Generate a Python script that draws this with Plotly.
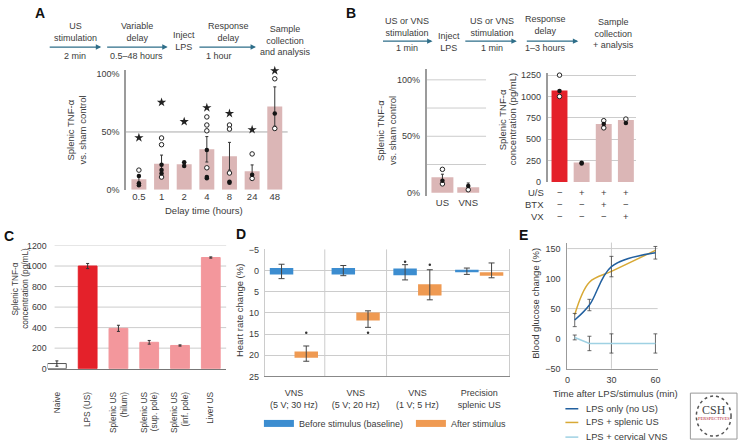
import plotly.graph_objects as go

W, H = 741, 447
def X(px): return px / W
def Y(py): return 1 - py / H

FONT = "Liberation Sans, Arial, Helvetica, sans-serif"
TXT = "#3b3b3b"
GRID = "#cccccc"
AXIS = "#9b9b9b"
PINK_A = "#dbb6b6"
RED = "#e4212a"
PINK_C = "#f3979c"
BLUE_D = "#3c8dd0"
ORANGE_D = "#ef9a52"
E_BLUE = "#22609f"
E_GOLD = "#d8a935"
E_LIGHT = "#9fd1e3"
ARROW = "#2e6e89"

# ---------------- Panel A data ----------------
delay_hours = ["0.5", "1", "2", "4", "8", "24", "48"]
a_mean = [9, 22.5, 22, 35, 29, 16, 72]
a_sem = [3, 7.5, 1.5, 11, 12, 5.5, 17]
a_filled = [[11.8, 5.6, 4.0], [21.6, 17, 14], [23.8, 20.5], [34.5, 11, 10], [7, 6], [13], [66]]
a_open = [[17], [44.8, 39, 11], [], [63, 56, 51, 19], [56, 52.5, 14.5], [31, 9.8], [96, 53]]
a_star = [45, 75.6, 59, 71, 66, 52, 103]

# ---------------- Panel B data ----------------
b_groups = ["US", "VNS"]
b_mean = [13.8, 4.9]
b_sem = [2.6, 3.7]
b_filled = [[10.6], [6]]
b_open = [[20.7, 7.8], [2.6]]

b2_mean = [1070, 229, 679, 725]
b2_filled = [[1065], [215, 226], [679], [690]]
b2_open = [[1250, 1000], [], [717, 633], [736]]
b2_rows = ["U/S", "BTX", "VX"]
b2_us = ["\u2212", "+", "+", "+"]
b2_btx = ["\u2212", "\u2212", "+", "\u2212"]
b2_vx = ["\u2212", "\u2212", "\u2212", "+"]

# ---------------- Panel C data ----------------
c_labels = ["Naive", "LPS (US)", "Splenic US<br>(hilum)", "Splenic US<br>(sup. pole)",
            "Splenic US<br>(inf. pole)", "Liver US"]
c_mean = [50, 1000, 393, 257, 226, 1083]
c_sem = [26, 25, 30, 18, 6, 6]
c_ticks = [0, 200, 400, 600, 800, 1000, 1200]

# ---------------- Panel D data ----------------
d_groups = ["VNS<br>(5 V; 30 Hz)", "VNS<br>(5 V; 20 Hz)", "VNS<br>(1 V; 5 Hz)", "Precision<br>splenic US"]
before_q1 = [-0.6, -0.6, -0.5, -0.2]
before_q3 = [0.9, 0.9, 1.1, 0.4]
before_lo = [-1.5, -1.2, -1.4, -0.6]
before_hi = [1.9, 1.2, 2.2, 0.9]
before_out = [None, None, -2.1, None]
after_q1 = [19.1, 9.9, 3.2, 0.4]
after_q3 = [20.6, 11.8, 5.9, 1.2]
after_lo = [17.8, 9.5, -0.2, -1.8]
after_hi = [21.4, 13.4, 6.9, 1.7]
after_out = [14.7, 14.7, -1.4, None]
d_names = ["Before stimulus (baseline)", "After stimulus"]

# ---------------- Panel E data ----------------
e_time = [5, 15, 30, 60]
e_lps = [31, 56, 120, 143]
e_lps_err = [11, 9.5, 17, 10.5]
e_splenic = [40, 94, 112, 147]
e_vns = [2, -8, -8, -8]
e_vns_err = [4, 12, 16, 16]
e_names = ["LPS only (no US)", "LPS + splenic US", "LPS + cervical VNS"]

fig = go.Figure()

def flat(cats, groups):
    xs, ys = [], []
    for c, vals in zip(cats, groups):
        for v in vals:
            if v is not None:
                xs.append(c)
                ys.append(v)
    return xs, ys

def dots(cats, filled, opened, xa, ya, size=4.5):
    ox, oy = flat(cats, opened)
    fx, fy = flat(cats, filled)
    fig.add_trace(go.Scatter(x=ox, y=oy, mode="markers", xaxis=xa, yaxis=ya, showlegend=False,
                             cliponaxis=False, hoverinfo="skip",
                             marker=dict(size=size, color="white", line=dict(color="#222", width=1))))
    fig.add_trace(go.Scatter(x=fx, y=fy, mode="markers", xaxis=xa, yaxis=ya, showlegend=False,
                             cliponaxis=False, hoverinfo="skip",
                             marker=dict(size=size, color="#151515")))

ERR = dict(type="data", color="#333", thickness=1, width=1.5)

# Panel A
fig.add_trace(go.Bar(x=delay_hours, y=a_mean, width=0.66, marker=dict(color=PINK_A, line=dict(width=0)),
                     error_y=dict(array=a_sem, **ERR), xaxis="x", yaxis="y", showlegend=False))
dots(delay_hours, a_filled, a_open, "x", "y")
fig.add_trace(go.Scatter(x=delay_hours, y=a_star, mode="markers", xaxis="x", yaxis="y", showlegend=False,
                         cliponaxis=False, marker=dict(symbol="star", size=7, color="#222")))

# Panel B left
fig.add_trace(go.Bar(x=b_groups, y=b_mean, width=0.85, marker=dict(color=PINK_A, line=dict(width=0)),
                     error_y=dict(array=b_sem, **ERR), xaxis="x2", yaxis="y2", showlegend=False))
dots(b_groups, b_filled, b_open, "x2", "y2")

# Panel B right
b2_x = list(range(len(b2_mean)))
fig.add_trace(go.Bar(x=b2_x, y=b2_mean, width=0.72,
                     marker=dict(color=[RED] + [PINK_A] * (len(b2_mean) - 1), line=dict(width=0)),
                     xaxis="x3", yaxis="y3", showlegend=False))
dots(b2_x, b2_filled, b2_open, "x3", "y3")

# Panel C
fig.add_trace(go.Bar(x=c_labels, y=c_mean, width=0.61,
                     marker=dict(color=["white", RED] + [PINK_C] * 4,
                                 line=dict(color=["#555", RED] + [PINK_C] * 4, width=1)),
                     error_y=dict(array=c_sem, **ERR), xaxis="x4", yaxis="y4", showlegend=False))

# Panel D (boxes drawn as floating bars + whiskers)
OFF, BW = 0.2, 0.38
for q1, q3, lo, hi, out, col, sgn in [
        (before_q1, before_q3, before_lo, before_hi, before_out, BLUE_D, -1),
        (after_q1, after_q3, after_lo, after_hi, after_out, ORANGE_D, 1)]:
    xs = [i + sgn * OFF for i in range(len(d_groups))]
    mid = [(a + b) / 2 for a, b in zip(q1, q3)]
    fig.add_trace(go.Bar(x=xs, y=[b - a for a, b in zip(q1, q3)], base=q1, width=BW,
                         marker=dict(color=col, line=dict(width=0)), xaxis="x5", yaxis="y5",
                         showlegend=False))
    fig.add_trace(go.Scatter(x=xs, y=mid, mode="markers", xaxis="x5", yaxis="y5", showlegend=False,
                             marker=dict(size=1, color="rgba(0,0,0,0)"),
                             error_y=dict(type="data", symmetric=False,
                                          array=[h - m for h, m in zip(hi, mid)],
                                          arrayminus=[m - l for m, l in zip(mid, lo)],
                                          color="#444", thickness=1, width=3)))
    ox = [x for x, o in zip(xs, out) if o is not None]
    oy = [o for o in out if o is not None]
    fig.add_trace(go.Scatter(x=ox, y=oy, mode="markers", xaxis="x5", yaxis="y5", showlegend=False,
                             marker=dict(size=2.5, color="#333")))
for name, col in zip(d_names, [BLUE_D, ORANGE_D]):
    fig.add_trace(go.Scatter(x=[None], y=[None], mode="lines", name=name, xaxis="x5", yaxis="y5",
                             line=dict(color=col, width=7), showlegend=True))

# Panel E
fig.add_trace(go.Scatter(x=e_time, y=e_vns, mode="lines", xaxis="x6", yaxis="y6", showlegend=False,
                         line=dict(color=E_LIGHT, width=1.5),
                         error_y=dict(type="data", array=e_vns_err, color="#444", thickness=0.8, width=2)))
fig.add_trace(go.Scatter(x=e_time, y=e_splenic, mode="lines", xaxis="x6", yaxis="y6", showlegend=False,
                         line=dict(color=E_GOLD, width=1.5, shape="spline")))
fig.add_trace(go.Scatter(x=e_time, y=e_lps, mode="lines", xaxis="x6", yaxis="y6", showlegend=False,
                         line=dict(color=E_BLUE, width=1.5, shape="spline"),
                         error_y=dict(type="data", array=e_lps_err, color="#444", thickness=0.8, width=2)))

def tf(size=9):
    return dict(family=FONT, size=size, color=TXT)

def ax(**kw):
    base = dict(showgrid=False, zeroline=False, ticks="", showline=False, tickfont=tf(9), fixedrange=True)
    base.update(kw)
    return base

layout = dict(
    width=W, height=H, margin=dict(l=0, r=0, t=0, b=0), autosize=False,
    paper_bgcolor="white", plot_bgcolor="rgba(0,0,0,0)", barmode="overlay",
    font=dict(family=FONT, size=9, color=TXT),
    xaxis=ax(domain=[X(124), X(287)], anchor="y", type="category", range=[-0.57, 6.57], tickfont=tf(9.5)),
    yaxis=ax(domain=[Y(189), Y(66)], anchor="x", range=[0, 104], tickvals=[0, 50, 100],
             ticktext=["0%", "50%", "100%"], showline=True, linecolor=AXIS, linewidth=1.5,
             ticklabelstandoff=3),
    xaxis2=ax(domain=[X(427), X(487)], anchor="y2", type="category", range=[-0.615, 1.69], tickfont=tf(9.5)),
    yaxis2=ax(domain=[Y(195), Y(65)], anchor="x2", range=[-2.6, 110], tickvals=[0, 50, 100],
              ticktext=["0%", "50%", "100%"], showline=True, linecolor=AXIS, linewidth=1.5,
              ticklabelstandoff=3),
    xaxis3=ax(domain=[X(549), X(638)], anchor="y3", range=[-0.54, 3.45], showticklabels=False),
    yaxis3=ax(domain=[Y(181), Y(70)], anchor="x3", range=[0, 1270], tickvals=[0, 250, 500, 750, 1000, 1250],
              showgrid=True, gridcolor=GRID, showline=True, linecolor=AXIS, linewidth=1.5,
              ticklabelstandoff=3),
    xaxis4=ax(domain=[X(45), X(225)], anchor="y4", type="category", range=[-0.3, 5.5], tickangle=-90,
              tickfont=tf(8.3), showline=True, linecolor="#777", linewidth=1, ticklabelstandoff=19),
    yaxis4=ax(domain=[Y(372), Y(246)], anchor="x4", range=[0, 1200], tickvals=c_ticks,
              tickfont=tf(8.8), showgrid=False, ticklabelstandoff=0),
    xaxis5=ax(domain=[X(264), X(510)], anchor="y5", range=[-0.47, 3.48], tickvals=list(range(len(d_groups))),
              ticktext=d_groups, showline=True, linecolor="#888", linewidth=1, ticklabelstandoff=8),
    yaxis5=ax(domain=[Y(380), Y(250)], anchor="x5", range=[25, -5], tickvals=[-5, 0, 5, 10, 15, 20, 25],
              ticktext=["\u22125", "0", "5", "10", "15", "20", "25"], showgrid=True, gridcolor=GRID,
              showline=True, mirror=True, linecolor=GRID, ticklabelstandoff=3),
    xaxis6=ax(domain=[X(569), X(660)], anchor="y6", range=[0, 61.5], tickvals=[0, 30, 60],
              showline=True, linecolor=AXIS, linewidth=1.2, ticklabelstandoff=2),
    yaxis6=ax(domain=[Y(372), Y(243)], anchor="x6", range=[-50, 160], tickvals=[-50, 0, 50, 100, 150],
              ticktext=["\u221250", "0", "50", "100", "150"], showline=True, linecolor=AXIS, linewidth=1.2,
              ticklabelstandoff=4),
    legend=dict(orientation="h", x=X(258), y=Y(428), xanchor="left", yanchor="middle",
                font=tf(9), bgcolor="rgba(0,0,0,0)", itemwidth=30, entrywidth=107, traceorder="normal"),
)

shapes = []
def hline(yref, val, xref, color=GRID, width=1, x0=0, x1=1):
    shapes.append(dict(type="line", xref=xref, x0=x0, x1=x1, yref=yref, y0=val, y1=val,
                       line=dict(color=color, width=width), layer="below"))
def vline(xref, val, yref, color=GRID, width=1):
    shapes.append(dict(type="line", yref=yref, y0=0, y1=1, xref=xref, x0=val, x1=val,
                       line=dict(color=color, width=width), layer="below"))

hline("y", 50, "x domain", color="#aaaaaa")
for v in [25, 50, 75, 100]:
    hline("y2", v, "x2 domain")
for v in c_ticks[1:]:
    hline("y4", v, "paper", x0=X(52), x1=X(225))
vline("x5", 0.5, "y5 domain")
vline("x5", 1.5, "y5 domain")
hline("y6", 50, "x6 domain")
hline("y6", 150, "x6 domain")
vline("x6", 30, "y6 domain")

anns = []
def txt(x, y, text, size=9, xanchor="center", yanchor="middle", angle=0, color=TXT, family=FONT, **kw):
    d = dict(x=X(x), y=Y(y), xref="paper", yref="paper", text=text, showarrow=False,
             xanchor=xanchor, yanchor=yanchor, textangle=angle,
             font=dict(family=family, size=size, color=color))
    d.update(kw)
    anns.append(d)

def vtitle(xs, yc, lines, size=9.5):
    for x, line in zip(xs, lines):
        txt(x, yc, line, size=size, angle=-90)

def arrow(x0, x1, y):
    anns.append(dict(x=X(x1), y=Y(y), xref="paper", yref="paper", text="", showarrow=True,
                     ax=-(x1 - x0), ay=0, axref="pixel", ayref="pixel", arrowhead=2, arrowsize=0.9,
                     arrowwidth=1.2, arrowcolor=ARROW))

# panel letters
for letter, x, y in [("A", 37, 8), ("B", 351, 8), ("C", 6, 236), ("D", 240, 234), ("E", 525, 235)]:
    txt(x, y, "<b>%s</b>" % letter, size=14, color="#111")

# flow A
txt(73, 28, "US<br>stimulation")
txt(73, 52, "2 min")
txt(135, 28, "Variable<br>delay")
txt(135, 52, "0.5\u201348 hours")
txt(182, 37, "Inject<br>LPS")
txt(227, 28, "Response<br>delay")
txt(218, 52, "1 hour")
txt(285, 36, "Sample<br>collection<br>and analysis")
arrow(46, 99, 43)
arrow(104, 166, 43)
arrow(197, 255, 43)

# flow B
txt(407, 22.5, "US or VNS<br>stimulation")
txt(407, 44, "1 min")
txt(450, 38, "Inject<br>LPS")
txt(493, 22.5, "US or VNS<br>stimulation")
txt(493, 44, "1 min")
txt(547, 20.5, "Response<br>delay")
txt(547, 44, "1\u20133 hours")
txt(615, 29, "Sample<br>collection<br>+ analysis")
arrow(382, 433, 37)
arrow(465, 518, 37)
arrow(527, 580, 37)

# axis titles
vtitle([68, 80], 128, ["Splenic TNF-\u03b1", "vs. sham control"])
txt(203, 210, "Delay time (hours)", size=9.5)
vtitle([380, 392], 128, ["Splenic TNF-\u03b1", "vs. sham control"])
vtitle([503, 514], 117, ["Splenic TNF-\u03b1", "concentration (pg/mL)"])
vtitle([12, 21.5], 290, ["Splenic TNF-\u03b1", "concentration (pg/mL)"], size=8.3)
txt(239, 313, "Heart rate change (%)", size=9.5, angle=-90)
txt(537, 305, "Blood glucose change (%)", size=9.5, angle=-90)
txt(617, 397, "Time after LPS/stimulus (min)", size=9.5)

# B right table
for row, signs, yy in zip(b2_rows, [b2_us, b2_btx, b2_vx], [192, 204, 216]):
    txt(547, yy, row, size=9.5, xanchor="right")
    for i, s in enumerate(signs):
        anns.append(dict(x=i, xref="x3", y=Y(yy), yref="paper", text=s, showarrow=False,
                         font=dict(family=FONT, size=9.5, color=TXT)))

# E legend (manual)
for name, col, yy in zip(e_names, [E_BLUE, E_GOLD, E_LIGHT], [413, 427, 442]):
    shapes.append(dict(type="line", xref="paper", yref="paper", x0=X(567), x1=X(580), y0=Y(yy), y1=Y(yy),
                       line=dict(color=col, width=1.5)))
    txt(586, yy, name, size=9.3, xanchor="left")

# CSH logo
shapes.append(dict(type="rect", xref="paper", yref="paper", x0=X(693), x1=X(740), y0=Y(444), y1=Y(397),
                   line=dict(color="#999", width=1), fillcolor="white"))
shapes.append(dict(type="circle", xref="paper", yref="paper", x0=X(699), x1=X(734), y0=Y(441), y1=Y(400),
                   line=dict(color="#555", width=1.5, dash="dot")))
txt(716.5, 414, "CSH", size=12, family="Liberation Serif, DejaVu Serif, serif", color="#444")
txt(716.5, 423, "PERSPECTIVES", size=4.5, family="Liberation Serif, DejaVu Serif, serif", color="#b3222b")

layout["shapes"] = shapes
layout["annotations"] = anns
fig.update_layout(**layout)
fig.write_html("out.html", config={"displayModeBar": False},
               post_script="document.body.style.margin='0';document.body.style.overflow='hidden';")
